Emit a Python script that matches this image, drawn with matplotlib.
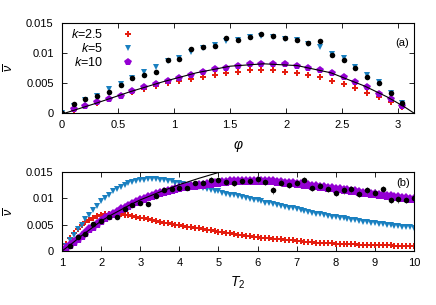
import numpy as np
import matplotlib
matplotlib.use('Agg')
import matplotlib.pyplot as plt

plt.rcParams['font.family'] = ['Liberation Sans', 'DejaVu Sans']
plt.rcParams['mathtext.fontset'] = 'custom'
plt.rcParams['mathtext.rm'] = 'Liberation Sans'
plt.rcParams['mathtext.it'] = 'Liberation Sans:italic'
plt.rcParams['font.size'] = 8

# ---- panel (a): v vs phi ----
phi = np.arange(30) * np.pi / 30

a_k25 = [np.nan, 0.0005, 0.0012, 0.0017, 0.0024, 0.0029, 0.0035, 0.0040, 0.0045, 0.0050,
         0.0054, 0.0057, 0.0060, 0.0064, 0.0067, 0.0069, 0.0071, 0.0071, 0.0071, 0.0069,
         0.0067, 0.0064, 0.0060, 0.0054, 0.0049, 0.0042, 0.0034, 0.0027, 0.0018, 0.0010]
a_k5 = [0.0, 0.0012, 0.0021, 0.0029, 0.0040, 0.0048, 0.0058, 0.0068, 0.0076, 0.0087,
        0.0091, 0.0101, 0.0108, 0.0113, 0.0120, 0.0121, 0.0126, 0.0128, 0.0127, 0.0124,
        0.0122, 0.0115, 0.0110, 0.0099, 0.0091, 0.0077, 0.0064, 0.0051, 0.0033, 0.0017]
a_k10 = [np.nan, 0.0006, 0.0012, 0.0018, 0.0024, 0.0029, 0.0037, 0.0043, 0.0048, 0.0054,
         0.0059, 0.0064, 0.0069, 0.0073, 0.0075, 0.0079, 0.0082, 0.0082, 0.0082, 0.0081,
         0.0079, 0.0075, 0.0071, 0.0066, 0.0060, 0.0051, 0.0043, 0.0032, 0.0023, 0.0011]
a_sim = [0.0, 0.0015, 0.0023, 0.0028, 0.0035, 0.0047, 0.0058, 0.0064, 0.0068, 0.0089,
         0.0090, 0.0107, 0.0110, 0.0112, 0.0125, 0.0122, 0.0127, 0.0131, 0.0128, 0.0125,
         0.0122, 0.0116, 0.0120, 0.0097, 0.0089, 0.0075, 0.0060, 0.0050, 0.0034, 0.0016]
a_sim_err = 0.0003

a_line_x = [0.03, 0.3, 0.6, 0.9, 1.2, 1.5, 1.8, 2.1, 2.4, 2.7, 2.9, 3.05, 3.14]
a_line_y = [0.0, 0.0016, 0.0035, 0.0052, 0.0067, 0.0078, 0.0082, 0.0079, 0.0067,
            0.0045, 0.0027, 0.0011, 0.0]

# ---- panel (b): v vs T2 ----
T2 = np.round(np.arange(1.0, 10.01, 0.1), 2)

b_k25 = [0.0, 0.0013, 0.0024, 0.0034, 0.0042, 0.0049, 0.0055, 0.0059, 0.0063, 0.0066,
         0.0068, 0.0070, 0.0071, 0.0071, 0.0071, 0.0070, 0.0069, 0.0068, 0.0066, 0.0065,
         0.0063, 0.0062, 0.0060, 0.0059, 0.0057, 0.0056, 0.0054, 0.0053, 0.0051, 0.0050,
         0.0049, 0.0048, 0.0046, 0.0045, 0.0044, 0.0043, 0.0041, 0.0040, 0.0039, 0.0038,
         0.0037, 0.0036, 0.0035, 0.0034, 0.0032, 0.0031, 0.0030, 0.0029, 0.0028, 0.0027,
         0.0026, 0.0025, 0.0025, 0.0024, 0.0023, 0.0022, 0.0022, 0.0021, 0.0020, 0.0020,
         0.0019, 0.0019, 0.0018, 0.0017, 0.0017, 0.0016, 0.0016, 0.0016, 0.0015, 0.0015,
         0.0014, 0.0014, 0.0014, 0.0013, 0.0013, 0.0013, 0.0012, 0.0012, 0.0012, 0.0012,
         0.0011, 0.0011, 0.0011, 0.0011, 0.0011, 0.0010, 0.0010, 0.0010, 0.0010, 0.0010,
         0.0010]
b_k5 = [0.0, 0.0010, 0.0021, 0.0031, 0.0041, 0.0050, 0.0060, 0.0069, 0.0077, 0.0086,
        0.0094, 0.0101, 0.0107, 0.0113, 0.0118, 0.0122, 0.0126, 0.0129, 0.0131, 0.0133,
        0.0134, 0.0135, 0.0136, 0.0136, 0.0136, 0.0135, 0.0134, 0.0133, 0.0132, 0.0130,
        0.0129, 0.0127, 0.0126, 0.0124, 0.0122, 0.0121, 0.0119, 0.0117, 0.0116, 0.0114,
        0.0113, 0.0111, 0.0109, 0.0107, 0.0106, 0.0104, 0.0102, 0.0101, 0.0099, 0.0097,
        0.0096, 0.0094, 0.0092, 0.0091, 0.0089, 0.0088, 0.0086, 0.0084, 0.0082, 0.0081,
        0.0079, 0.0078, 0.0076, 0.0074, 0.0073, 0.0071, 0.0070, 0.0068, 0.0067, 0.0065,
        0.0064, 0.0063, 0.0062, 0.0060, 0.0059, 0.0058, 0.0057, 0.0056, 0.0055, 0.0054,
        0.0053, 0.0052, 0.0051, 0.0050, 0.0049, 0.0048, 0.0047, 0.0046, 0.0045, 0.0045,
        0.0044]
b_k10 = [0.0, 0.0005, 0.0011, 0.0017, 0.0023, 0.0029, 0.0035, 0.0041, 0.0046, 0.0052,
         0.0057, 0.0062, 0.0067, 0.0071, 0.0075, 0.0079, 0.0082, 0.0086, 0.0089, 0.0093,
         0.0096, 0.0099, 0.0102, 0.0105, 0.0108, 0.0110, 0.0112, 0.0114, 0.0116, 0.0118,
         0.0119, 0.0121, 0.0122, 0.0123, 0.0124, 0.0125, 0.0126, 0.0127, 0.0128, 0.0129,
         0.0130, 0.0131, 0.0131, 0.0132, 0.0132, 0.0133, 0.0133, 0.0133, 0.0133, 0.0133,
         0.0133, 0.0133, 0.0133, 0.0132, 0.0132, 0.0131, 0.0131, 0.0130, 0.0129, 0.0129,
         0.0128, 0.0127, 0.0126, 0.0125, 0.0124, 0.0123, 0.0122, 0.0121, 0.0120, 0.0119,
         0.0118, 0.0117, 0.0116, 0.0115, 0.0114, 0.0113, 0.0112, 0.0111, 0.0110, 0.0109,
         0.0108, 0.0107, 0.0106, 0.0105, 0.0104, 0.0103, 0.0102, 0.0101, 0.0100, 0.0099,
         0.0099]

T2_sim = np.round(np.arange(1.2, 10.01, 0.2), 2)
b_sim = [0.0009, 0.0026, 0.0033, 0.0051, 0.0057, 0.0064, 0.0064, 0.0080, 0.0087, 0.0091,
         0.0090, 0.0105, 0.0116, 0.0117, 0.0120, 0.0120, 0.0129, 0.0130, 0.0135, 0.0134,
         0.0131, 0.0129, 0.0133, 0.0133, 0.0136, 0.0131, 0.0115, 0.0130, 0.0125, 0.0129,
         0.0135, 0.0120, 0.0123, 0.0118, 0.0110, 0.0115, 0.0117, 0.0109, 0.0115, 0.0111,
         0.0118, 0.0097, 0.0098, 0.0097, 0.0100]
b_sim_err = [0.0001, 0.0002, 0.0002, 0.0002, 0.0002, 0.0002, 0.0003, 0.0003, 0.0003, 0.0003,
             0.0003, 0.0003, 0.0004, 0.0004, 0.0004, 0.0004, 0.0004, 0.0004, 0.0005, 0.0005,
             0.0005, 0.0005, 0.0005, 0.0005, 0.0006, 0.0006, 0.0006, 0.0006, 0.0006, 0.0006,
             0.0006, 0.0006, 0.0006, 0.0006, 0.0006, 0.0006, 0.0006, 0.0006, 0.0006, 0.0006,
             0.0006, 0.0006, 0.0006, 0.0006, 0.0006]

b_line_x = [1.0, 1.25, 1.5, 1.75, 2.0, 2.25, 2.5, 2.75, 3.0, 3.5, 4.0, 4.5, 5.0, 5.5]
b_line_y = [0.0, 0.0014, 0.0029, 0.0043, 0.0057, 0.0068, 0.0078, 0.0088, 0.0097,
            0.0112, 0.0126, 0.0138, 0.0149, 0.0159]

labels = ['$k$=2.5', '$k$=5', '$k$=10']
c_red = '#e51e10'
c_blue = '#1a80c0'
c_purple = '#9400d3'

fig = plt.figure(figsize=(4.36, 3.05), dpi=100)
ax1 = fig.add_axes([0.1422, 0.6295, 0.8073, 0.2951])
ax2 = fig.add_axes([0.1422, 0.1770, 0.8073, 0.2591])

# panel (a)
ax1.plot(phi, a_k25, 'P', color=c_red, ms=5, mew=0, label=labels[0])
ax1.plot(phi, a_k5, 'v', color=c_blue, ms=5, mew=0, label=labels[1])
ax1.plot(phi, a_k10, 'p', color=c_purple, ms=5.5, mew=0, label=labels[2])
ax1.errorbar(phi, a_sim, yerr=a_sim_err, fmt='o', color='black', ms=4, mew=0,
             elinewidth=0.6, capsize=1.2, capthick=0.6)
ax1.plot(a_line_x, a_line_y, '-', color='black', lw=0.8)
ax1.set_xlim(0, np.pi)
ax1.set_ylim(0, 0.015)
ax1.set_xticks([0, 0.5, 1, 1.5, 2, 2.5, 3])
ax1.set_xticklabels(['0', '0.5', '1', '1.5', '2', '2.5', '3'])
ax1.set_xlabel(r'$\varphi$', fontsize=10, labelpad=6)
ax1.text(0.985, 0.78, '(a)', transform=ax1.transAxes, ha='right', va='center', fontsize=8)
leg = ax1.legend(loc='upper left', bbox_to_anchor=(0.01, 1.0), frameon=False, markerfirst=False,
                 handlelength=1.0, handletextpad=1.5, labelspacing=0.1, borderpad=0.1,
                 borderaxespad=0.3, fontsize=9)

# panel (b)
ax2.plot(T2, b_k25, 'P', color=c_red, ms=4.5, mew=0)
ax2.plot(T2, b_k5, 'v', color=c_blue, ms=4.5, mew=0)
ax2.plot(T2, b_k10, 'p', color=c_purple, ms=6.5, mew=0)
ax2.errorbar(T2_sim, b_sim, yerr=b_sim_err, fmt='o', color='black', ms=4, mew=0,
             elinewidth=0.6, capsize=1.2, capthick=0.6, ecolor='#555555')
ax2.plot(b_line_x, b_line_y, '-', color='black', lw=0.8)
ax2.set_xlim(1, 10)
ax2.set_ylim(0, 0.015)
ax2.set_xticks(range(1, 11))
ax2.set_xlabel(r'$T_2$', fontsize=10, labelpad=5)
ax2.text(0.99, 0.86, '(b)', transform=ax2.transAxes, ha='right', va='center', fontsize=8)

for ax in (ax1, ax2):
    ax.set_yticks([0, 0.005, 0.01, 0.015])
    ax.set_yticklabels(['0', '0.005', '0.01', '0.015'])
    ax.set_ylabel(r'$\overline{\nu}$', fontsize=9, va='center')
    ax.yaxis.set_label_coords(-0.148, 0.5)
    ax.tick_params(direction='in', top=True, right=True, length=3.5, width=0.6,
                   labelsize=8, pad=5)
    ax.tick_params(axis='y', pad=6)
    for s in ax.spines.values():
        s.set_linewidth(0.8)

fig.savefig('out.png', dpi=100)
